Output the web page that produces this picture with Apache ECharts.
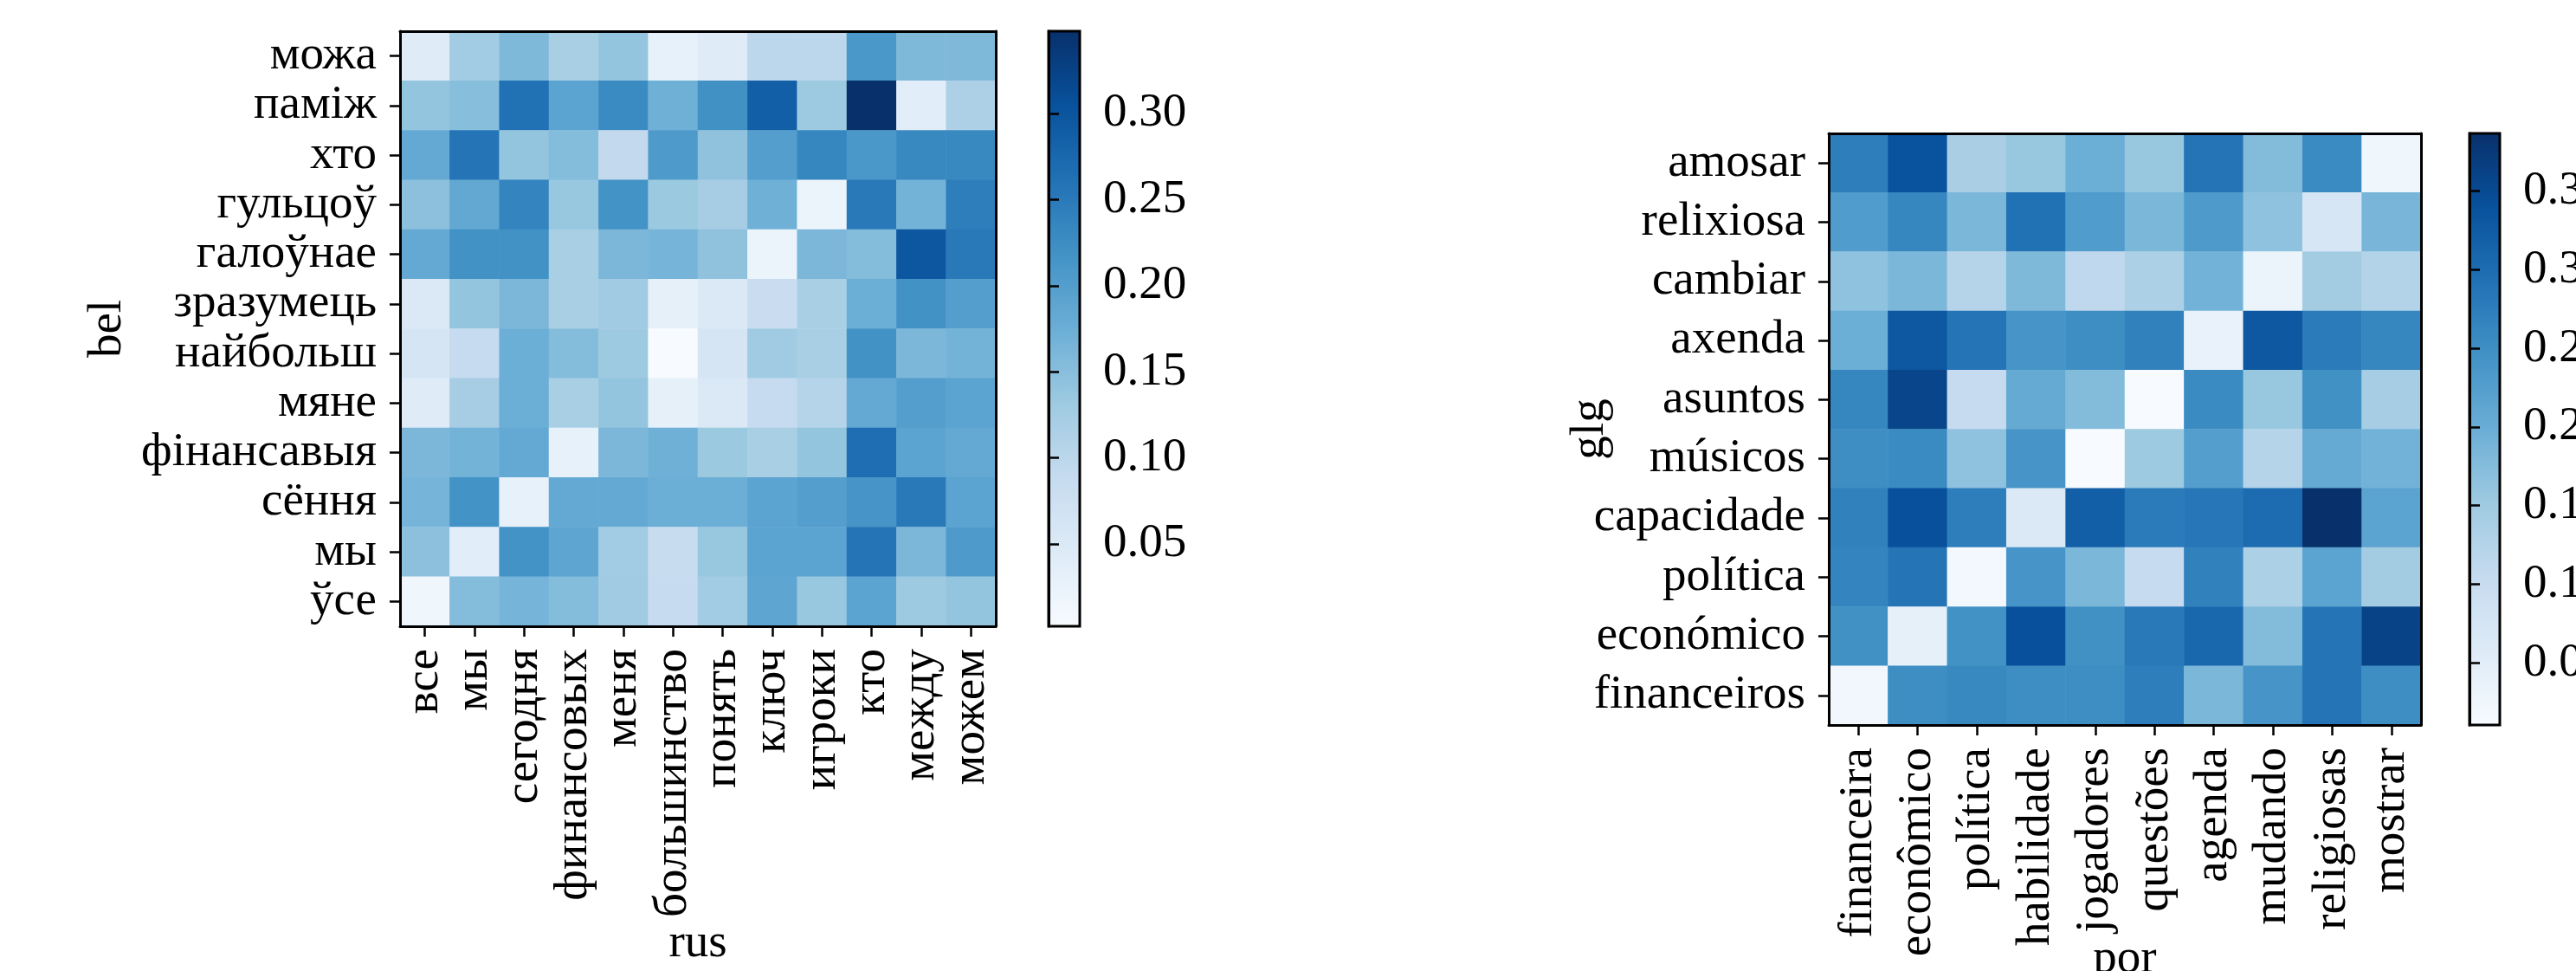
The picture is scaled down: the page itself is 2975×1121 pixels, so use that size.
<!DOCTYPE html>
<html><head><meta charset="utf-8">
<script src="https://cdn.jsdelivr.net/npm/echarts@6/dist/echarts.min.js"></script>
<style>html,body{margin:0;padding:0;background:#fff}#c{width:2975px;height:1121px}</style>
</head><body><div id="c"></div>
<script>
// ---------- data ----------
const rusCategories = ['все','мы','сегодня','финансовых','меня','большинство','понять','ключ','игроки','кто','между','можем'];
const belCategories = ['можа','паміж','хто','гульцоў','галоўнае','зразумець','найбольш','мяне','фінансавыя','сёння','мы','ўсе'];
// rows = belCategories (top to bottom), cols = rusCategories
const belRusValues = [
  [0.044,0.127,0.158,0.120,0.140,0.030,0.044,0.099,0.099,0.210,0.158,0.158],
  [0.140,0.151,0.261,0.192,0.227,0.172,0.220,0.286,0.132,0.348,0.040,0.116],
  [0.182,0.258,0.140,0.154,0.092,0.206,0.144,0.199,0.234,0.210,0.230,0.230],
  [0.147,0.185,0.237,0.137,0.216,0.134,0.123,0.172,0.023,0.251,0.168,0.244],
  [0.182,0.218,0.218,0.120,0.161,0.165,0.144,0.023,0.161,0.154,0.296,0.251],
  [0.051,0.140,0.161,0.120,0.130,0.033,0.051,0.082,0.120,0.175,0.218,0.199],
  [0.061,0.089,0.175,0.154,0.132,0.002,0.061,0.130,0.120,0.218,0.161,0.168],
  [0.044,0.123,0.175,0.120,0.140,0.033,0.051,0.089,0.106,0.182,0.199,0.192],
  [0.161,0.168,0.182,0.030,0.161,0.172,0.134,0.120,0.140,0.265,0.192,0.182],
  [0.165,0.216,0.030,0.182,0.182,0.175,0.175,0.192,0.199,0.213,0.251,0.192],
  [0.147,0.040,0.216,0.189,0.127,0.085,0.137,0.192,0.192,0.258,0.161,0.206],
  [0.016,0.154,0.165,0.154,0.130,0.089,0.127,0.189,0.137,0.192,0.132,0.140]
];
const porCategories = ['financeira','econômico','política','habilidade','jogadores','questões','agenda','mudando','religiosas','mostrar'];
const glgCategories = ['amosar','relixiosa','cambiar','axenda','asuntos','músicos','capacidade','política','económico','financeiros'];
// rows = glgCategories (top to bottom), cols = porCategories
const glgPorValues = [
  [0.274,0.338,0.138,0.157,0.199,0.157,0.289,0.176,0.255,0.026],
  [0.229,0.262,0.184,0.293,0.229,0.184,0.232,0.165,0.071,0.187],
  [0.165,0.184,0.123,0.180,0.112,0.135,0.191,0.033,0.146,0.127],
  [0.199,0.330,0.289,0.240,0.251,0.270,0.037,0.330,0.278,0.262],
  [0.262,0.357,0.105,0.206,0.176,0.011,0.255,0.157,0.247,0.142],
  [0.251,0.255,0.165,0.240,0.011,0.152,0.225,0.123,0.206,0.191],
  [0.270,0.341,0.274,0.063,0.319,0.278,0.285,0.300,0.387,0.217],
  [0.266,0.289,0.018,0.240,0.184,0.105,0.270,0.135,0.217,0.146],
  [0.247,0.044,0.246,0.341,0.247,0.281,0.308,0.176,0.289,0.360],
  [0.022,0.251,0.259,0.251,0.251,0.274,0.184,0.240,0.289,0.251]
];
const leftColorbarTicks = [0.05,0.10,0.15,0.20,0.25,0.30];
const rightColorbarTicks = [0.05,0.10,0.15,0.20,0.25,0.30,0.35];
const leftRange = [0.0022, 0.3478];
const rightRange = [0.0105, 0.3866];
const BLUES = ['#f7fbff','#deebf7','#c6dbef','#9ecae1','#6baed6','#4292c6','#2171b5','#08519c','#08306b'];

// ---------- styling ----------
const FONT = 'Liberation Serif';
const FS = 55;
const LINE = {color:'#000', width:3};
const TICK = {color:'#000', width:2.5};

function toCells(matrix){
  const out = [];
  matrix.forEach((row, r) => row.forEach((v, c) => out.push([c, r, v])));
  return out;
}
function lineOnly(extra){
  return Object.assign({
    axisLine:{show:true, onZero:false, lineStyle:LINE},
    axisTick:{show:false}, axisLabel:{show:false}, splitLine:{show:false},
    silent:true, z:10
  }, extra);
}
function catX(grid, cats, name, gap){
  return {
    gridIndex:grid, type:'category', data:cats, position:'bottom', z:10,
    name:name, nameLocation:'middle', nameGap:gap, nameMoveOverlap:false,
    nameTextStyle:{fontFamily:FONT, fontSize:FS, color:'#000'},
    axisLine:{show:true, lineStyle:LINE},
    axisTick:{show:true, alignWithLabel:true, length:12, lineStyle:TICK},
    axisLabel:{show:true, rotate:90, interval:0, margin:26, fontFamily:FONT, fontSize:FS, color:'#000'},
    splitLine:{show:false}
  };
}
function catY(grid, cats, name, gap){
  return {
    gridIndex:grid, type:'category', data:cats, position:'left', inverse:true, z:10,
    name:name, nameLocation:'middle', nameGap:gap, nameMoveOverlap:false,
    nameTextStyle:{fontFamily:FONT, fontSize:FS, color:'#000'},
    axisLine:{show:true, lineStyle:LINE},
    axisTick:{show:true, alignWithLabel:true, length:12, lineStyle:TICK},
    axisLabel:{show:true, interval:0, margin:27, fontFamily:FONT, fontSize:FS, color:'#000'},
    splitLine:{show:false}
  };
}
function cbY(grid, range, ticks){
  return {
    gridIndex:grid, type:'value', position:'right', min:range[0], max:range[1], z:10,
    axisLine:{show:true, lineStyle:LINE},
    axisTick:{show:true, length:12, lineStyle:TICK, customValues:ticks},
    axisLabel:{show:true, margin:27, fontFamily:FONT, fontSize:FS, color:'#000',
      customValues:ticks, formatter:v => v.toFixed(2)},
    splitLine:{show:false}
  };
}
function cbGradient(){
  const n = BLUES.length;
  return {type:'linear', x:0, y:0, x2:0, y2:1,
    colorStops: BLUES.map((c, i) => ({offset: 1 - i/(n-1), color:c})).reverse()};
}

const L = {left:462, top:36, width:688, height:687};
const LC = {left:1211, top:36, width:36, height:687};
const R = {left:2112, top:154, width:684, height:683};
const RC = {left:2852, top:154, width:35, height:683};
const base = {containLabel:false, outerBoundsMode:'none'};

const option = {
  backgroundColor:'#fff',
  animation:false,
  grid:[
    Object.assign({}, base, L),
    Object.assign({}, base, {show:true, backgroundColor:cbGradient(), borderColor:'#000', borderWidth:3}, LC),
    Object.assign({}, base, R),
    Object.assign({}, base, {show:true, backgroundColor:cbGradient(), borderColor:'#000', borderWidth:3}, RC)
  ],
  xAxis:[
    catX(0, rusCategories, 'rus', 339),
    lineOnly({gridIndex:0, type:'category', data:rusCategories, position:'top'}),
    {gridIndex:1, type:'value', min:0, max:1, show:false},
    catX(2, porCategories, 'por', 243),
    lineOnly({gridIndex:2, type:'category', data:porCategories, position:'top'}),
    {gridIndex:3, type:'value', min:0, max:1, show:false}
  ],
  yAxis:[
    catY(0, belCategories, 'bel', 310),
    lineOnly({gridIndex:0, type:'category', data:belCategories, position:'right', inverse:true}),
    cbY(1, leftRange, leftColorbarTicks),
    catY(2, glgCategories, 'glg', 248),
    lineOnly({gridIndex:2, type:'category', data:glgCategories, position:'right', inverse:true}),
    cbY(3, rightRange, rightColorbarTicks)
  ],
  visualMap:[
    {type:'continuous', show:false, seriesIndex:0, min:leftRange[0], max:leftRange[1], inRange:{color:BLUES}},
    {type:'continuous', show:false, seriesIndex:1, min:rightRange[0], max:rightRange[1], inRange:{color:BLUES}}
  ],
  series:[
    {type:'heatmap', xAxisIndex:0, yAxisIndex:0, data:toCells(belRusValues),
     itemStyle:{borderWidth:0}, emphasis:{disabled:true}, progressive:0},
    {type:'heatmap', xAxisIndex:3, yAxisIndex:3, data:toCells(glgPorValues),
     itemStyle:{borderWidth:0}, emphasis:{disabled:true}, progressive:0}
  ]
};
const chart = echarts.init(document.getElementById('c'), null, {renderer:'canvas'});
chart.setOption(option);
</script>
</body></html>
